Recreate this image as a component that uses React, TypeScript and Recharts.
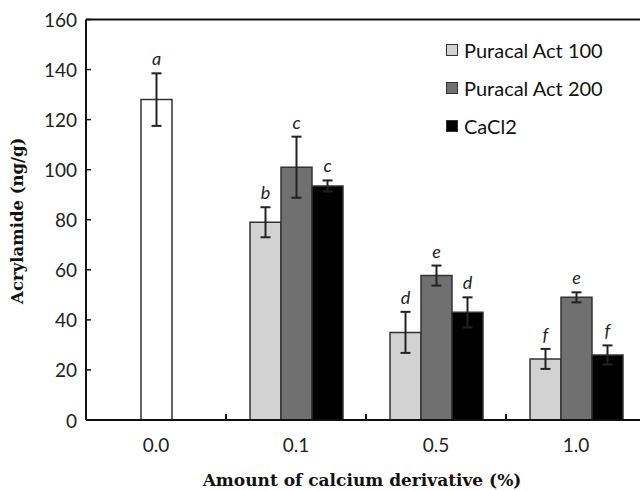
import React from 'react';
import { BarChart, Bar, XAxis, YAxis, ErrorBar, LabelList, Legend, ReferenceLine } from 'recharts';

const categories = ['0.0', '0.1', '0.5', '1.0'];
const control = [128, null, null, null];
const controlErr = [10.5, null, null, null];
const controlLetters = ['a', null, null, null];
const p100 = [null, 79, 35, 24.4];
const p100Err = [null, 6, 8.2, 4];
const p100Letters = [null, 'b', 'd', 'f'];
const p200 = [null, 101, 57.7, 49];
const p200Err = [null, 12.2, 4, 2];
const p200Letters = [null, 'c', 'e', 'e'];
const cacl2 = [null, 93.5, 43, 26];
const cacl2Err = [null, 2.2, 6, 3.8];
const cacl2Letters = [null, 'c', 'd', 'f'];
const yTicks = [0, 20, 40, 60, 80, 100, 120, 140, 160];
const legendItems = [
  { name: 'Puracal Act 100', color: '#d2d2d2' },
  { name: 'Puracal Act 200', color: '#707070' },
  { name: 'CaCl2', color: '#000000' },
];

const rows = categories.map((cat, i) => ({
  cat,
  control: control[i], controlErr: controlErr[i], controlLetter: controlLetters[i],
  p100: p100[i], p100Err: p100Err[i], p100Letter: p100Letters[i],
  p200: p200[i], p200Err: p200Err[i], p200Letter: p200Letters[i],
  cacl2: cacl2[i], cacl2Err: cacl2Err[i], cacl2Letter: cacl2Letters[i],
}));

const SANS = 'Lato, "Open Sans", sans-serif';
const SERIF = '"DejaVu Serif", serif';
const AXIS = '#111';

const letterKey = (key: string) => (d: any) =>
  d[key + 'Letter'] ? `${d[key + 'Letter']}|${d[key]}|${d[key + 'Err'] || 0}` : null;

const LetterLabel = (props: any) => {
  const { x, y, width, height, value } = props;
  if (!value || typeof value !== 'string') return null;
  const [letter, vs, es] = value.split('|');
  const v = parseFloat(vs);
  const e = parseFloat(es);
  if (!v || !height) return null;
  const ppu = Math.abs(height) / v;
  const top = Math.min(y, y + height);
  const capY = top - e * ppu;
  return (
    <text x={x + width / 2} y={capY - 15} textAnchor="middle" dominantBaseline="central"
      fontFamily={SANS} fontStyle="italic" fontSize={18} fill="#222">{letter}</text>
  );
};

const XTick = (props: any) => {
  const { x, y, payload } = props;
  const off = payload && payload.offset ? payload.offset : 70;
  return (
    <g>
      <line x1={x - off} y1={y} x2={x - off} y2={y - 6} stroke={AXIS} strokeWidth={2} />
      <text x={x} y={y + 24} textAnchor="middle" dominantBaseline="central"
        fontFamily={SANS} fontSize={19} fill="#222">{payload.value}</text>
    </g>
  );
};

const YTick = (props: any) => {
  const { x, y, payload } = props;
  return (
    <g>
      <line x1={x} y1={y} x2={x + 5} y2={y} stroke={AXIS} strokeWidth={1.5} />
      <text x={x - 9} y={y} textAnchor="end" dominantBaseline="central"
        fontFamily={SANS} fontSize={19} fill="#222">{payload.value}</text>
    </g>
  );
};

const LegendContent = () => (
  <div style={{ fontFamily: SANS, fontSize: 20, color: '#111' }}>
    {legendItems.map((it) => (
      <div key={it.name} style={{ display: 'flex', alignItems: 'center', height: 38 }}>
        <span style={{ display: 'inline-block', width: 10, height: 10, background: it.color,
          border: '1px solid #333', marginRight: 6 }} />
        <span>{it.name}</span>
      </div>
    ))}
  </div>
);

export default function App() {
  return (
    <div style={{ position: 'fixed', left: 0, top: 0, width: 640, height: 490, overflow: 'hidden', background: '#fff' }}>
      <BarChart width={680} height={490} data={rows}
        margin={{ top: 19.5, right: 34, bottom: 0, left: 0 }} barGap={0} barSize={31}>
        <XAxis dataKey="cat" height={70} tickSize={0} tickMargin={0} interval={0}
          axisLine={{ stroke: AXIS, strokeWidth: 2 }} tickLine={false} tick={XTick}
          label={{
            content: (p: any) => {
              const vb = p.viewBox || { x: 86, width: 560 };
              return (
                <text x={vb.x + vb.width / 2 - 4} y={480} textAnchor="middle" dominantBaseline="central"
                  fontFamily={SERIF} fontWeight="bold" fontSize={17} fill="#111">
                  Amount of calcium derivative (%)
                </text>
              );
            },
          }} />
        <XAxis xAxisId="ctrl" dataKey="cat" hide />
        <YAxis width={86} domain={[0, 160]} ticks={yTicks} tickSize={0} tickMargin={0}
          axisLine={{ stroke: AXIS, strokeWidth: 2 }} tickLine={false} tick={YTick}
          label={{
            content: (p: any) => {
              const vb = p.viewBox || { y: 19.5, height: 400.5 };
              const cy = vb.y + vb.height / 2 + 1;
              return (
                <text x={17} y={cy} transform={`rotate(-90 17 ${cy})`} textAnchor="middle"
                  dominantBaseline="central" fontFamily={SERIF} fontWeight="bold" fontSize={16.5} fill="#111">
                  Acrylamide (ng/g)
                </text>
              );
            },
          }} />
        <ReferenceLine y={160} stroke={AXIS} strokeWidth={2} ifOverflow="visible" />
        <Legend layout="vertical" align="center" verticalAlign="middle" content={LegendContent}
          wrapperStyle={{ position: 'absolute', left: 446, top: 31, width: 200, height: 120 }} />
        <Bar xAxisId="ctrl" dataKey="control" fill="#ffffff" stroke="#333" strokeWidth={1.5} isAnimationActive={false}>
          <ErrorBar dataKey="controlErr" width={5} strokeWidth={2} stroke="#222" direction="y" />
          <LabelList dataKey={letterKey('control')} content={LetterLabel} />
        </Bar>
        <Bar dataKey="p100" fill="#d2d2d2" stroke="#333" strokeWidth={1.5} isAnimationActive={false}>
          <ErrorBar dataKey="p100Err" width={5} strokeWidth={2} stroke="#222" direction="y" />
          <LabelList dataKey={letterKey('p100')} content={LetterLabel} />
        </Bar>
        <Bar dataKey="p200" fill="#707070" stroke="#333" strokeWidth={1.5} isAnimationActive={false}>
          <ErrorBar dataKey="p200Err" width={5} strokeWidth={2} stroke="#222" direction="y" />
          <LabelList dataKey={letterKey('p200')} content={LetterLabel} />
        </Bar>
        <Bar dataKey="cacl2" fill="#000000" stroke="#333" strokeWidth={1.5} isAnimationActive={false}>
          <ErrorBar dataKey="cacl2Err" width={5} strokeWidth={2} stroke="#222" direction="y" />
          <LabelList dataKey={letterKey('cacl2')} content={LetterLabel} />
        </Bar>
      </BarChart>
    </div>
  );
}
